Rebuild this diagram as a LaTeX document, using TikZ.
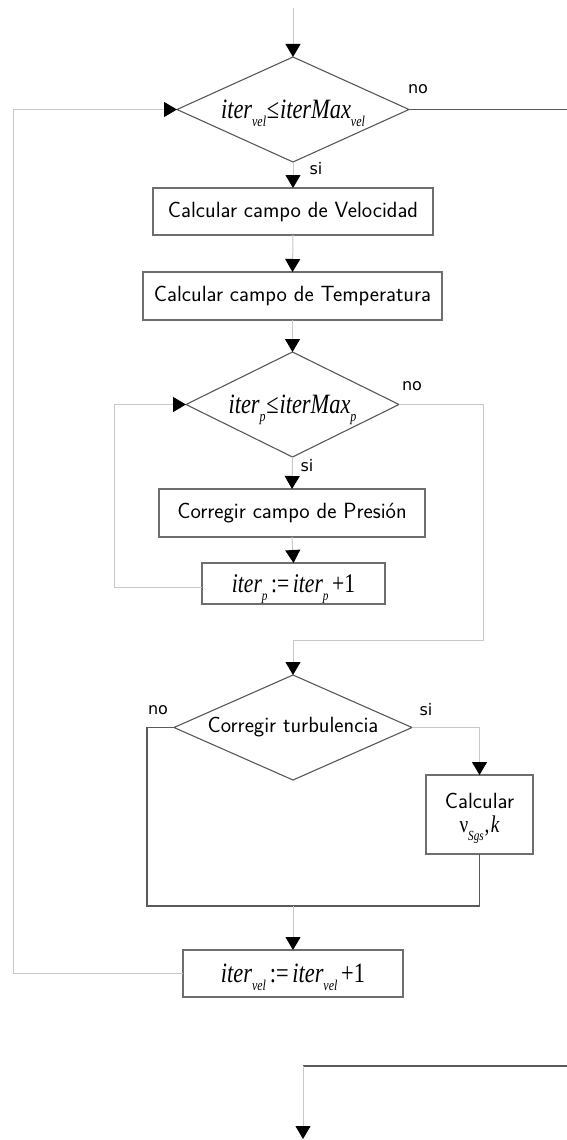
\documentclass[tikz,border=0pt]{standalone}
\usepackage{fontspec}
\usepackage{graphicx}
\usetikzlibrary{shapes.geometric,arrows.meta,calc}
\newfontfamily\lblfont{DejaVu Sans}
\newfontfamily\formfont{Liberation Serif}

% italic formula pieces: condensed serif with lowered indices
\newcommand{\lowidx}[2][15]{\raisebox{-8pt}[0pt][0pt]{\fontsize{#1}{#1}\selectfont\formfont\itshape #2}}
\newcommand{\formula}[2][28]{\scalebox{0.8}[1]{\fontsize{#1}{#1}\selectfont\formfont\itshape #2}}

\definecolor{conn}{HTML}{C8C8C8}
\definecolor{dconn}{HTML}{5A5A5A}
\definecolor{boxline}{HTML}{6E6E6E}
\definecolor{dialine}{HTML}{585858}

\tikzset{
  stepbox/.style={draw=boxline, line width=1.3pt, rectangle, inner sep=0pt, outer sep=0pt,
    font=\fontsize{22}{24}\selectfont\sffamily, align=center},
  decision/.style={draw=dialine, line width=1.1pt, diamond, inner sep=0pt, outer sep=0pt},
  lbl/.style={font=\fontsize{16}{16}\selectfont\lblfont, inner sep=0pt},
  link/.style={draw=conn, line width=1pt},
  darklink/.style={draw=dconn, line width=1.1pt},
  arr/.style={-{Triangle[length=13pt,width=15pt,color=black]}},
}

\begin{document}
\begin{tikzpicture}[x=1pt, y=-1pt]
\useasboundingbox (0,0) rectangle (567,1140);

% decisions
\node[decision, minimum width=232pt, minimum height=105pt, aspect=2.2] (d1) at (293,109.5)
  {\formula{iter\lowidx{vel}\kern1pt{\upshape ≤}\kern1pt iterMax\lowidx{vel}}};
\node[decision, minimum width=213pt, minimum height=105pt, aspect=2.0] (d2) at (292.5,404.5)
  {\formula{iter\lowidx{p}\kern1pt{\upshape ≤}\kern1pt iterMax\lowidx{p}}};
\node[decision, minimum width=238pt, minimum height=105pt, aspect=2.3,
  font=\fontsize{22}{26}\selectfont\sffamily] (d3) at (293,727.5) {Corregir turbulencia};

% process boxes
\node[stepbox, minimum width=280pt, minimum height=47pt] (b1) at (293,211.5) {Calcular campo de Velocidad};
\node[stepbox, minimum width=299pt, minimum height=48pt] (b2) at (292.5,296) {Calcular campo de Temperatura};
\node[stepbox, minimum width=266pt, minimum height=48pt] (b3) at (292,513) {Corregir campo de Presión};
\node[stepbox, minimum width=183pt, minimum height=41pt] (b4) at (293.5,583.5)
  {\formula[27]{iter\lowidx[14]{p}\,{\upshape :=}\,iter\lowidx[14]{p}\,{\upshape +1}}};
\node[stepbox, minimum width=107pt, minimum height=79pt] (b5) at (479.5,814.5)
  {Calcular\\\formula[24]{{\upshape ν}\lowidx[14]{Sgs}\kern1pt{\upshape ,}\kern2pt k}};
\node[stepbox, minimum width=220pt, minimum height=47pt] (b6) at (293,973.5)
  {\formula{iter\lowidx{vel}\,{\upshape :=}\,iter\lowidx{vel}\,{\upshape +1}}};

% branch labels
\node[lbl] (no1) at (418,89) {no};
\node[lbl] (si1) at (316,169) {si};
\node[lbl] (no2) at (412,386) {no};
\node[lbl] (si2) at (307,466) {si};
\node[lbl] (no3) at (158,710) {no};
\node[lbl] (si3) at (426,710) {si};

% free ends and bends
\coordinate (start) at (293,8);
\coordinate (exit1) at (567,109.5);
\coordinate (loop1) at (13,109.5);
\coordinate (loop2) at (114,404.5);
\coordinate (out2) at (483,640);
\coordinate (merge) at (147,906);
\coordinate (exit2) at (567,1066);
\coordinate (end) at (303,1139);

% main flow
\draw[link, arr] (start) -- (d1.north);
\draw[darklink] (d1.east) -- (exit1);
\draw[link, arr] (d1.south) -- (b1.north);
\draw[link, arr] (b1.south) -- (b2.north);
\draw[link, arr] (b2.south) -- (d2.north);
\draw[link, arr] (d2.south) -- (b3.north);
\draw[link, arr] (b3.south) -- (b4.north);

% pressure loop
\draw[link, arr] ([yshift=-3.5pt]b4.west) -| (loop2) -- (d2.west);
\draw[link, arr] (d2.east) -| (out2) -- (out2 -| d3.north) -- (d3.north);

% turbulence branch
\draw[link, arr] (d3.east) -| (b5.north);
\draw[darklink] (d3.west) -| (merge) -| (b5.south);
\draw[link, arr] (merge -| b6.north) -- (b6.north);

% velocity loop
\draw[link, arr] (b6.west) -| (loop1) -- (d1.west);

% final exit
\draw[darklink] (exit2) -- (exit2 -| end);
\draw[link, arr] (exit2 -| end) -- (end);
\end{tikzpicture}
\end{document}
